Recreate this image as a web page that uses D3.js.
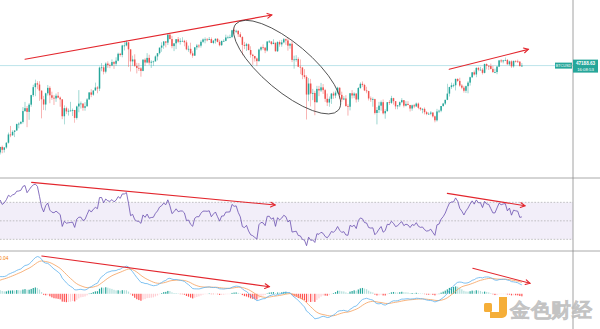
<!DOCTYPE html>
<html>
<head>
<meta charset="utf-8">
<script src="https://cdn.jsdelivr.net/npm/d3@7/dist/d3.min.js"></script>
<style>
  html, body { margin: 0; padding: 0; background: #fff; overflow: hidden; }
  svg { display: block; }
  text { font-family: "Liberation Sans", Arial, sans-serif; }
</style>
</head>
<body>
<svg id="chart" width="600" height="329"></svg>
<script>
// BTC/USD daily candles, 2020-12-20 .. 2021-08-31 (values in thousands of USD)
const firstDay = "2020-12-20";

// Closes Nov 1 .. Dec 19 2020: history used only to warm up RSI / MACD
const priorCloses = [
  13.74,13.55,14.02,14.14,15.59,15.59,14.83,15.48,15.33,15.30,15.70,16.28,16.32,16.07,15.96,16.73,17.66,17.80,17.82,18.66,
  18.70,18.43,18.37,19.16,18.73,17.15,17.14,17.72,18.18,19.70,
  18.80,19.22,19.45,18.70,19.15,19.38,19.19,18.32,18.55,18.25,18.04,18.81,19.17,19.27,19.43,21.34,22.80,23.14,23.86
];

const closes = [
  // Dec
  23.49,22.75,23.82,23.26,23.72,24.69,26.45,26.27,27.04,27.36,28.87,28.98,
  // Jan
  29.39,32.20,33.00,31.99,33.99,36.82,39.37,40.67,40.24,38.24,35.55,34.03,37.39,39.14,36.77,36.02,35.82,36.63,36.07,35.53,
  30.83,32.99,32.10,32.28,32.37,32.50,30.40,33.47,34.30,34.32,33.11,
  // Feb
  33.54,35.51,37.67,36.95,38.29,39.26,38.90,46.40,46.50,44.84,47.99,47.40,47.21,48.60,47.94,49.17,52.12,51.61,55.89,55.89,
  57.41,54.09,48.89,49.68,47.07,46.28,46.11,45.14,
  // Mar
  49.59,48.44,50.35,48.37,48.76,48.88,50.97,52.38,54.88,55.85,57.80,57.23,61.19,58.97,55.60,56.90,58.91,57.66,58.10,58.10,
  57.37,54.10,54.34,52.30,51.30,55.03,55.85,55.80,57.63,58.79,58.80,
  // Apr
  58.74,58.97,57.07,58.20,59.12,57.60,56.00,58.08,58.10,59.77,59.80,59.90,63.50,62.97,63.21,61.40,60.00,56.16,55.70,56.47,
  53.80,51.70,51.14,50.10,49.00,54.00,55.04,54.84,53.56,57.75,
  // May
  57.80,56.60,57.20,53.24,57.50,56.40,57.35,58.90,58.28,55.80,56.70,49.50,49.70,49.90,46.76,46.43,43.54,42.90,37.00,40.60,
  37.30,37.50,34.70,38.80,38.30,39.30,38.40,35.70,34.60,35.70,37.30,
  // Jun
  36.70,37.60,39.20,36.90,35.50,35.80,33.60,33.40,37.40,36.70,37.30,35.50,39.10,40.50,40.10,38.30,38.10,35.80,35.50,35.60,
  31.70,32.50,33.70,34.70,31.60,32.20,34.70,34.50,35.90,35.00,
  // Jul
  33.50,33.80,34.70,35.30,33.70,34.20,33.90,32.90,33.80,33.50,34.30,33.10,32.70,32.80,31.90,31.40,31.50,31.80,30.80,29.80,
  32.10,32.30,33.60,34.30,35.40,37.30,39.40,40.00,40.00,42.20,41.50,
  // Aug
  39.90,39.20,38.20,39.70,40.90,42.80,44.60,43.80,46.30,45.60,45.60,44.40,47.80,47.10,47.00,45.90,44.70,44.70,46.80,49.30,
  48.90,49.30,49.50,47.70,48.90,46.90,49.10,48.90,48.80,47.00,47.18863
];

const highs = [
  24.29,24.10,23.84,24.10,23.80,24.77,26.87,28.42,27.39,27.37,28.99,29.30,
  29.60,33.30,34.78,33.60,34.44,36.94,40.18,41.95,41.40,41.40,38.30,36.60,37.60,40.10,39.70,37.90,36.80,37.30,37.80,36.40,
  35.60,33.80,33.40,32.90,34.80,32.90,32.50,33.70,38.40,34.90,34.30,
  34.70,35.90,37.70,38.70,38.30,40.90,39.70,46.80,48.20,47.30,48.50,48.90,48.00,49.70,49.00,50.60,52.60,52.50,56.20,57.50,
  58.30,57.50,54.20,51.30,51.90,48.30,48.20,46.60,
  49.80,50.20,52.40,51.70,49.40,49.20,51.40,52.30,54.90,57.40,58.00,58.00,61.80,61.60,60.60,56.90,59.00,60.00,59.40,59.90,
  58.60,58.40,55.80,57.20,53.20,55.00,56.60,56.50,58.40,59.30,59.80,
  59.50,60.00,59.80,58.50,59.30,59.40,58.60,58.20,58.90,61.20,60.70,61.20,63.70,64.90,63.80,63.50,62.50,60.40,57.60,57.10,
  56.80,55.50,52.10,51.20,50.50,54.40,55.40,56.40,55.20,58.00,
  58.50,57.90,58.90,57.20,57.90,58.30,58.60,59.50,59.20,59.50,56.90,57.90,51.30,51.50,50.60,49.70,46.60,45.80,43.50,42.50,
  42.20,38.80,38.20,39.80,39.80,40.80,40.40,38.80,37.30,36.40,37.50,
  37.90,38.20,39.50,39.30,37.90,36.50,36.80,34.10,37.50,38.40,37.70,37.50,39.40,41.00,41.30,40.50,39.50,38.20,36.40,36.10,
  35.70,33.30,34.80,35.20,35.50,32.70,34.70,35.30,36.60,36.00,
  35.00,33.90,34.90,35.90,35.30,35.00,35.00,33.90,34.00,34.20,34.60,34.60,33.30,33.00,33.20,32.20,31.90,32.20,31.90,31.00,
  32.80,32.60,33.60,34.50,35.40,40.50,39.50,40.90,40.60,42.30,42.40,
  42.60,40.40,39.80,39.90,41.40,43.00,44.70,45.30,46.50,46.70,46.70,46.20,48.00,48.10,47.40,48.00,47.10,46.00,47.00,49.40,
  49.80,49.50,50.50,49.90,49.20,49.30,49.20,49.30,49.60,48.90,48.20
];

const lows = [
  23.07,21.82,22.36,22.60,22.73,23.46,24.51,25.86,26.20,25.88,27.32,27.85,
  28.80,29.00,32.00,28.13,29.92,33.40,36.30,36.50,38.70,35.10,30.30,32.50,32.40,36.70,34.40,35.40,33.90,34.80,35.90,33.40,
  30.10,28.80,31.40,31.00,32.10,30.90,29.20,30.00,31.90,32.90,32.30,
  32.30,33.40,35.40,36.20,36.60,38.20,37.40,38.10,45.00,43.80,44.20,46.30,46.20,47.00,45.90,47.10,48.90,50.90,50.60,53.60,
  55.50,46.70,44.90,47.10,46.70,44.20,45.10,43.00,
  45.00,47.10,48.10,47.50,46.30,47.10,48.90,49.30,51.80,53.00,54.30,55.00,56.10,58.90,54.60,53.30,54.20,57.00,56.30,57.80,
  55.50,53.70,53.00,51.70,50.40,51.30,53.90,54.70,54.90,57.00,56.90,
  57.90,58.50,57.00,56.50,56.80,57.40,55.50,55.70,57.70,57.90,59.40,59.40,59.80,61.30,62.10,60.00,59.70,51.50,54.20,53.40,
  53.60,50.50,47.50,48.80,47.00,48.80,53.30,53.90,52.40,53.10,
  57.10,56.00,56.50,53.10,52.90,55.30,55.30,56.90,56.20,53.50,54.40,48.60,46.00,48.80,46.60,43.90,42.10,42.30,30.00,35.00,
  33.50,35.30,31.10,34.50,36.50,37.80,37.20,34.80,33.60,33.40,34.20,
  35.70,35.90,37.20,35.60,34.80,35.30,33.40,31.00,32.40,35.80,35.90,34.60,34.80,38.80,39.50,38.10,37.40,35.20,34.80,33.40,
  31.30,28.80,31.70,32.30,31.30,30.20,32.00,33.90,34.20,34.00,
  32.70,32.70,33.30,34.40,33.20,33.50,33.80,32.10,32.30,33.00,33.30,32.70,32.30,31.60,31.30,31.10,31.20,31.10,30.50,29.30,
  29.50,31.70,31.90,33.40,33.90,35.30,36.40,38.80,39.30,38.30,41.10,
  39.50,38.70,37.60,37.50,37.40,39.90,42.50,43.40,42.80,45.00,45.40,43.80,44.20,45.70,45.50,45.70,44.40,44.30,43.90,46.60,
  48.30,48.10,49.00,47.60,47.20,46.30,46.40,48.40,48.30,46.90,46.70
];

// Axis tick labels
const priceTicks = [82000,74000,66000,59500,51000,41000,37000,33000,30000,27000,24500,22100,20100,18100];
const rsiTicks = [80,60,40,20];
const rsiLevels = [70,50,30];
const macdTicks = [0.15,0.10,0.05,0.00,-0.05,-0.10];

const symbol = "BTCUSD";
const countdown = "16:08:53";
const macdLegend = "0.04";
const watermark = "金色财经";

// Hand-drawn trend annotations: [candle index, value] pairs
const priceTrend = [[14.0, 49800], [133.2, 72200]];
const priceTrendRecent = [[218.9, 45750], [257.1, 54100]];
const rsiTrend = [[17.2, 91.6], [134.8, 67.1]];
const rsiTrendRecent = [[218.0, 79.7], [255.5, 66.3]];
const macdTrend = [[22.1, 0.165], [132.0, 0.031]];
const macdTrendRecent = [[230.3, 0.1115], [257.9, 0.046]];
const correctionZone = { center: [140.6, 46600], rx: 67, ry: 24, angle: 40 };

// ---------------------------------------------------------------------------
const W = 600, H = 329, AX = 573;
const panels = { main: [0, 178], rsi: [178, 251], macd: [251, 329] };

const svg = d3.select("#chart");

const x = d3.scaleLinear().domain([1.93, 278.7]).range([0, AX]);
const yP = d3.scaleLog().domain([18350, 81900]).range([panels.main[1], panels.main[0]]);
const yR = d3.scaleLinear().domain([17.4, 96.3]).range([panels.rsi[1], panels.rsi[0]]);
const yM = d3.scaleLinear().domain([-0.154, 0.187]).range([panels.macd[1], panels.macd[0]]);

const defs = svg.append("defs");
Object.entries(panels).forEach(([k, [y0, y1]]) => {
  defs.append("clipPath").attr("id", "clip-" + k)
    .append("rect").attr("x", 0).attr("y", y0).attr("width", AX).attr("height", y1 - y0);
  defs.append("clipPath").attr("id", "clipax-" + k)
    .append("rect").attr("x", AX).attr("y", y0).attr("width", W - AX).attr("height", y1 - y0);
});

// Candle records
const candles = closes.map((c, i) => ({
  i,
  o: (i ? closes[i - 1] : priorCloses[priorCloses.length - 1]) * 1000,
  h: highs[i] * 1000,
  l: lows[i] * 1000,
  c: c * 1000
}));

// Indicators over the full history
const allCloses = priorCloses.concat(closes).map(v => v * 1000);
function rsiCalc(arr, n) {
  const out = new Array(arr.length).fill(null);
  let g = 0, l = 0;
  for (let i = 1; i <= n; i++) { const d = arr[i] - arr[i - 1]; if (d > 0) g += d; else l -= d; }
  g /= n; l /= n;
  out[n] = l === 0 ? 100 : 100 - 100 / (1 + g / l);
  for (let i = n + 1; i < arr.length; i++) {
    const d = arr[i] - arr[i - 1];
    g = (g * (n - 1) + Math.max(d, 0)) / n;
    l = (l * (n - 1) + Math.max(-d, 0)) / n;
    out[i] = l === 0 ? 100 : 100 - 100 / (1 + g / l);
  }
  return out;
}
function ema(arr, n) {
  const k = 2 / (n + 1);
  let e = arr[0];
  return arr.map((v, i) => (i === 0 ? e : (e = v * k + e * (1 - k))));
}
const logC = allCloses.map(Math.log);
const e12 = ema(logC, 12), e26 = ema(logC, 26);
const macdAll = e12.map((v, i) => v - e26[i]);
const sigAll = ema(macdAll, 9);
const histAll = macdAll.map((v, i) => v - sigAll[i]);
const rsiAll = rsiCalc(allCloses, 14);
const off = priorCloses.length;
const ind = closes.map((_, i) => ({
  i,
  rsi: rsiAll[i + off],
  macd: macdAll[i + off],
  sig: sigAll[i + off],
  hist: histAll[i + off],
  prevHist: histAll[i + off - 1]
}));

// ---------------- price panel ----------------
const gMain = svg.append("g").attr("clip-path", "url(#clip-main)");
const lastPrice = candles[candles.length - 1].c;
gMain.append("line")
  .attr("x1", 0).attr("x2", AX).attr("y1", yP(lastPrice)).attr("y2", yP(lastPrice))
  .attr("stroke", "#a9dce4").attr("stroke-width", 0.8);

const up = "#26a69a", down = "#ef5350";
const cg = gMain.selectAll("g.candle").data(candles).join("g").attr("class", "candle");
cg.append("line")
  .attr("x1", d => x(d.i)).attr("x2", d => x(d.i))
  .attr("y1", d => yP(d.h)).attr("y2", d => yP(d.l))
  .attr("stroke", d => d.c >= d.o ? up : down).attr("stroke-width", 0.6).attr("opacity", 0.75);
cg.append("rect")
  .attr("x", d => x(d.i) - 0.75).attr("width", 1.5)
  .attr("y", d => yP(Math.max(d.o, d.c)))
  .attr("height", d => Math.max(0.8, yP(Math.min(d.o, d.c)) - yP(Math.max(d.o, d.c))))
  .attr("fill", d => d.c >= d.o ? up : down);

// ---------------- RSI panel ----------------
const gRsi = svg.append("g").attr("clip-path", "url(#clip-rsi)");
gRsi.append("rect").attr("x", 0).attr("width", AX)
  .attr("y", yR(70)).attr("height", yR(30) - yR(70))
  .attr("fill", "#7e57c2").attr("fill-opacity", 0.1);
gRsi.selectAll("line.lvl").data(rsiLevels).join("line").attr("class", "lvl")
  .attr("x1", 0).attr("x2", AX).attr("y1", d => yR(d)).attr("y2", d => yR(d))
  .attr("stroke", "#9e9e9e").attr("stroke-width", 0.6).attr("stroke-dasharray", "1.6,1.6");
gRsi.append("path").datum(ind.filter(d => d.rsi != null))
  .attr("fill", "none").attr("stroke", "#6a4fb0").attr("stroke-width", 0.8)
  .attr("d", d3.line().x(d => x(d.i)).y(d => yR(d.rsi)));

// ---------------- MACD panel ----------------
const gMacd = svg.append("g").attr("clip-path", "url(#clip-macd)");
gMacd.selectAll("rect.h").data(ind).join("rect").attr("class", "h")
  .attr("x", d => x(d.i) - 0.6).attr("width", 1.2)
  .attr("y", d => Math.min(yM(0), yM(d.hist)))
  .attr("height", d => Math.max(0.4, Math.abs(yM(d.hist) - yM(0))))
  .attr("fill", d => d.hist >= 0
    ? (d.hist > d.prevHist ? "#26a69a" : "#b2dfdb")
    : (d.hist < d.prevHist ? "#ff5252" : "#ffcdd2"));
gMacd.append("path").datum(ind)
  .attr("fill", "none").attr("stroke", "#f5a05c").attr("stroke-width", 0.8)
  .attr("d", d3.line().x(d => x(d.i)).y(d => yM(d.sig)));
gMacd.append("path").datum(ind)
  .attr("fill", "none").attr("stroke", "#5fb3ee").attr("stroke-width", 0.8)
  .attr("d", d3.line().x(d => x(d.i)).y(d => yM(d.macd)));
svg.append("text").attr("x", -1).attr("y", 259.5).text(macdLegend)
  .attr("font-size", 4.8).attr("fill", "#f57c00");

// ---------------- separators and axes ----------------
[panels.main[1], panels.rsi[1]].forEach(yy => {
  svg.append("line").attr("x1", 0).attr("x2", W).attr("y1", yy).attr("y2", yy)
    .attr("stroke", "#a0a0a0").attr("stroke-width", 0.9);
});
svg.append("line").attr("x1", AX).attr("x2", AX).attr("y1", 0).attr("y2", H)
  .attr("stroke", "#8a8a8a").attr("stroke-width", 0.8);

function drawAxis(scale, ticks, key) {
  const g = svg.append("g")
    .attr("transform", `translate(${AX},0)`)
    .attr("clip-path", `url(#clipax-${key})`);
  g.call(d3.axisRight(scale).tickValues(ticks).tickFormat(d3.format(".2f")).tickSize(0).tickPadding(4));
  g.select(".domain").remove();
  g.selectAll("text").attr("font-size", 4.6).attr("fill", "#707070")
    .attr("font-family", "Liberation Sans, Arial, sans-serif");
}
drawAxis(yP, priceTicks, "main");
drawAxis(yR, rsiTicks, "rsi");
drawAxis(yM, macdTicks, "macd");

// Last price tag and symbol tag
const py = yP(lastPrice);
svg.append("rect").attr("x", 555).attr("y", py - 3).attr("width", 17).attr("height", 6)
  .attr("fill", "#26a69a");
svg.append("text").attr("x", 563.5).attr("y", py + 1.4).attr("text-anchor", "middle")
  .attr("font-size", 3.8).attr("fill", "#fff").text(symbol);
svg.append("rect").attr("x", AX).attr("y", py - 6).attr("width", 25).attr("height", 13)
  .attr("fill", "#26a69a");
svg.append("text").attr("x", AX + 12.5).attr("y", py - 0.6).attr("text-anchor", "middle")
  .attr("font-size", 4.6).attr("font-weight", 700).attr("fill", "#fff")
  .text(d3.format(".2f")(lastPrice));
svg.append("text").attr("x", AX + 12.5).attr("y", py + 5).attr("text-anchor", "middle")
  .attr("font-size", 4.3).attr("fill", "#fff").text(countdown);

// ---------------- annotations ----------------
const red = "#e3262d";
function arrow(pts, ys) {
  const [p0, p1] = pts.map(([i, v]) => [x(i), ys(v)]);
  const g = svg.append("g").attr("stroke", red).attr("stroke-width", 1.1)
    .attr("fill", "none").attr("stroke-linecap", "round");
  g.append("line").attr("x1", p0[0]).attr("y1", p0[1]).attr("x2", p1[0]).attr("y2", p1[1]);
  const a = Math.atan2(p1[1] - p0[1], p1[0] - p0[0]);
  const L = 5, s = 0.5;
  g.append("path").attr("d",
    `M${p1[0] - L * Math.cos(a - s)},${p1[1] - L * Math.sin(a - s)}L${p1[0]},${p1[1]}` +
    `L${p1[0] - L * Math.cos(a + s)},${p1[1] - L * Math.sin(a + s)}`);
}
arrow(priceTrend, yP);
arrow(priceTrendRecent, yP);
arrow(rsiTrend, yR);
arrow(rsiTrendRecent, yR);
arrow(macdTrend, yM);
arrow(macdTrendRecent, yM);

svg.append("ellipse")
  .attr("transform", `translate(${x(correctionZone.center[0])},${yP(correctionZone.center[1])}) rotate(${correctionZone.angle})`)
  .attr("rx", correctionZone.rx).attr("ry", correctionZone.ry)
  .attr("fill", "none").attr("stroke", "#3a3a3a").attr("stroke-width", 0.8);

// ---------------- watermark ----------------
const wm = svg.append("g").attr("opacity", 0.9);
wm.append("rect").attr("x", 484).attr("y", 303).attr("width", 8).attr("height", 9).attr("rx", 1.5)
  .attr("fill", "#f5a623");
wm.append("path").attr("fill", "#f5a623")
  .attr("d", "M499,297h8v16a5,5 0 0 1 -5,5h-12v-6h9z");
wm.append("text").attr("x", 510).attr("y", 316.5).text(watermark)
  .attr("font-family", "Noto Sans CJK SC").attr("font-size", 19.5).attr("font-weight", 700)
  .attr("fill", "#e2e2e2").attr("stroke", "#bdbdbd").attr("stroke-width", 0.6)
  .attr("letter-spacing", 0.5);
</script>
</body>
</html>
